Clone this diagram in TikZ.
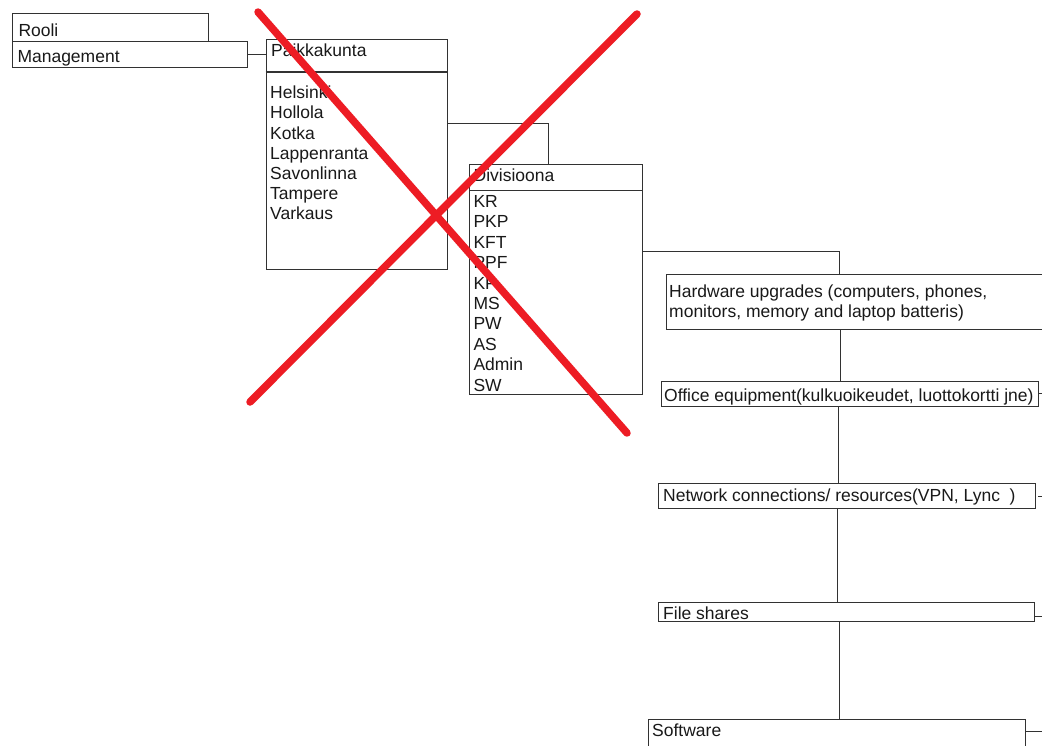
\documentclass[tikz,border=0pt]{standalone}
\usepackage{fontspec}
\setmainfont{Liberation Sans}
\definecolor{boxgray}{RGB}{50,50,50}
\definecolor{txt}{RGB}{25,25,25}
\definecolor{xred}{RGB}{237,28,36}
\begin{document}
\begin{tikzpicture}[x=1pt,y=-1pt,
  box/.style={draw=boxgray, line width=1.1pt, fill=white, rectangle, inner sep=0pt, anchor=north west},
  lbl/.style={anchor=base west, inner sep=0pt, text=txt, font=\fontsize{17.5}{20.3}\selectfont},
  wire/.style={draw=boxgray, line width=1.1pt},
  cross/.style={draw=xred, line width=7.5pt, line cap=round}]
\useasboundingbox[fill=white] (0,0) rectangle (1042,745);

% left-hand boxes
\node[box, minimum width=196.6pt, minimum height=27.4pt] (rooli) at (11.7,13.3) {};
\node[box, minimum width=235pt, minimum height=26pt] (mgmt) at (11.7,40.7) {};
\node[box, minimum width=181.6pt, minimum height=230pt] (paik) at (265.7,39.3) {};
\draw[wire] (paik.west |- 0,72) -- (paik.east |- 0,72);
\node[box, minimum width=172.7pt, minimum height=229.7pt] (div) at (469.3,164.3) {};
\draw[wire] (div.west |- 0,190.3) -- (div.east |- 0,190.3);

% right-hand column
\node[box, minimum width=376pt, minimum height=55.3pt] (hw) at (665.5,274) {};
\node[box, minimum width=376.7pt, minimum height=25.3pt] (office) at (661,380.7) {};
\node[box, minimum width=376.7pt, minimum height=25pt] (net) at (658.3,483.3) {};
\node[box, minimum width=376pt, minimum height=19pt] (files) at (658.3,601.7) {};
\node[box, minimum width=376.7pt, minimum height=40pt] (soft) at (648.3,719) {};

% connectors
\draw[wire] (mgmt.east) -- (mgmt.east -| paik.west);
\draw[wire] ([yshift=-84pt]paik.north east) -| ([xshift=-8pt]div.north);
\draw[wire] ([yshift=-87.4pt]div.north east) -| ([xshift=-14.2pt]hw.north);
\draw[wire] ([xshift=-13.5pt]hw.south) -- ([xshift=-13.5pt]hw.south |- office.north);
\draw[wire] ([xshift=-11pt]office.south) -- ([xshift=-11pt]office.south |- net.north);
\draw[wire] ([xshift=-9.6pt]net.south) -- ([xshift=-9.6pt]net.south |- files.north);
\draw[wire] ([xshift=-7pt]files.south) -- ([xshift=-7pt]files.south |- soft.north);
\draw[wire] (office.east) -- ++(5,0);
\draw[wire] ([xshift=2pt]net.east) -- ++(5,0);
\draw[wire] ([yshift=-4.8pt]files.east) -- ++(8,0);
\draw[wire] ([yshift=-12.7pt]soft.north east) -- ++(17,0);

% labels
\node[lbl] (trooli) at (18.3,36) {Rooli};
\node[lbl] (tmgmt) at (17.3,62) {Management};
\node[lbl] (tpaik) at (271,56) {Paikkakunta};
\foreach \t [count=\i from 0] in {Helsinki,Hollola,Kotka,Lappenranta,Savonlinna,Tampere,Varkaus}
  \node[lbl] (city\i) at (270,98.7+20.2*\i) {\t};
\node[lbl] (tdiv) at (473.5,181) {Divisioona};
\foreach \t [count=\i from 0] in {KR,PKP,KFT,PPF,KP,MS,PW,AS,Admin,SW}
  \node[lbl] (unit\i) at (473.3,207.5+20.4*\i) {\t};
\node[lbl] (thwa) at (669,297.7) {Hardware upgrades (computers, phones,};
\node[lbl] (thwb) at (669,317.5) {monitors, memory and laptop batteris)};
\node[lbl] (toffice) at (664,401.7) {Office equipment(kulkuoikeudet, luottokortti jne)};
\node[lbl] (tnet) at (663,501.7) {Network connections/ resources(VPN, Lync\ \ )};
\node[lbl] (tfiles) at (663,619) {File shares};
\node[lbl] (tsoft) at (652,736) {Software};

% red cross drawn over the left part
\draw[cross] (258,12) -- (627,433);
\draw[cross] (250,402) -- (637,14);
\end{tikzpicture}
\end{document}
